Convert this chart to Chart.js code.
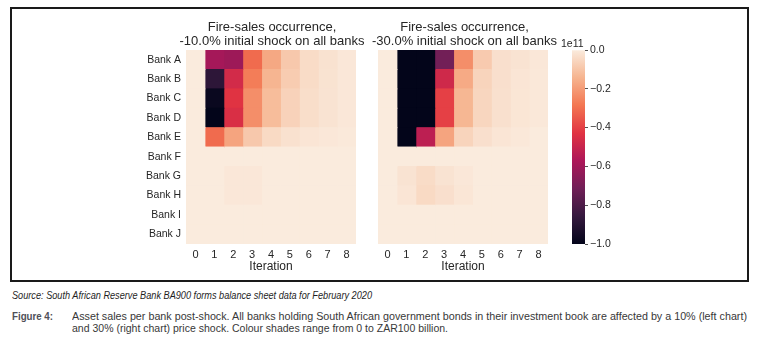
<!DOCTYPE html>
<html>
<head>
<meta charset="utf-8">
<script src="https://cdn.jsdelivr.net/npm/chart.js@4.4.1/dist/chart.umd.min.js"></script>
<style>
body { margin: 0; background: #fff; width: 766px; height: 344px; position: relative; overflow: hidden;
       font-family: "Liberation Sans", Arial, sans-serif; }
#box { position: absolute; left: 10px; top: 7px; width: 735px; height: 271px; border: 2px solid #1a1a1a; }
canvas { position: absolute; top: 0; }
#c10 { left: 110px; }
#c30 { left: 360px; }
#cbar { left: 556px; }
.cap { position: absolute; white-space: nowrap; font-size: 11px; line-height: 12px; color: #383838;
       font-family: "Liberation Sans Narrow", "Liberation Sans", Arial, sans-serif; transform-origin: 0 0; }
#src { left: 12px; top: 290px; font-size: 10px; font-style: italic; color: #1e1e1e; }
#fig { left: 12px; top: 310px; font-weight: bold; color: #4f4f58; }
#l1 { left: 72px; top: 310px; }
#l2 { left: 72px; top: 322px; }
</style>
</head>
<body>
<div id="box"></div>
<canvas id="c10" width="324" height="274"></canvas>
<canvas id="c30" width="209" height="274"></canvas>
<canvas id="cbar" width="64" height="274"></canvas>
<div id="src" class="cap" data-w="360">Source: South African Reserve Bank BA900 forms balance sheet data for February 2020</div>
<div id="fig" class="cap" data-w="41">Figure 4:</div>
<div id="l1" class="cap" data-w="675">Asset sales per bank post-shock. All banks holding South African government bonds in their investment book are affected by a 10% (left chart)</div>
<div id="l2" class="cap" data-w="376">and 30% (right chart) price shock. Colour shades range from 0 to ZAR100 billion.</div>
<script>
var banks = ['Bank A', 'Bank B', 'Bank C', 'Bank D', 'Bank E', 'Bank F', 'Bank G', 'Bank H', 'Bank I', 'Bank J'];
var iterations = [0, 1, 2, 3, 4, 5, 6, 7, 8];
var title10 = ['Fire-sales occurrence,', '-10.0% initial shock on all banks'];
var title30 = ['Fire-sales occurrence,', '-30.0% initial shock on all banks'];
var cbTicks = [-1.0, -0.8, -0.6, -0.4, -0.2, 0.0];
var cbMin = -1, cbMax = 0;
var cbOffset = '1e11';

// asset sales, units of 1e11 ZAR; rows = banks, columns = iterations
var sales10 = [
    [0, -0.59, -0.61, -0.31, -0.17, -0.09, -0.04, -0.023, -0.01],
    [0, -0.88, -0.47, -0.27, -0.14, -0.08, -0.04, -0.022, -0.01],
    [0, -0.98, -0.43, -0.23, -0.12, -0.065, -0.035, -0.02, -0.01],
    [0, -1.00, -0.45, -0.23, -0.12, -0.065, -0.035, -0.02, -0.01],
    [0, -0.31, -0.18, -0.09, -0.045, -0.025, -0.015, -0.01, -0.005],
    [0, 0, 0, 0, 0, 0, 0, 0, 0],
    [0, 0, -0.01, -0.01, 0, 0, 0, 0, 0],
    [0, 0, -0.01, -0.01, 0, 0, 0, 0, 0],
    [0, 0, 0, 0, 0, 0, 0, 0, 0],
    [0, 0, 0, 0, 0, 0, 0, 0, 0]
];
var sales30 = [
    [0, -1.00, -1.00, -0.71, -0.23, -0.085, -0.03, -0.02, -0.01],
    [0, -1.00, -1.00, -0.48, -0.165, -0.06, -0.03, -0.015, -0.008],
    [0, -1.00, -1.00, -0.40, -0.135, -0.055, -0.028, -0.014, -0.007],
    [0, -1.00, -1.00, -0.40, -0.135, -0.055, -0.028, -0.014, -0.007],
    [0, -1.00, -0.53, -0.18, -0.06, -0.03, -0.015, -0.008, 0],
    [0, 0, 0, 0, 0, 0, 0, 0, 0],
    [0, -0.02, -0.04, -0.02, -0.01, 0, 0, 0, 0],
    [0, -0.015, -0.045, -0.03, -0.012, 0, 0, 0, 0],
    [0, 0, 0, 0, 0, 0, 0, 0, 0],
    [0, 0, 0, 0, 0, 0, 0, 0, 0]
];

// seaborn "rocket" colour map, sampled
var rocketStops = ['#03051a', '#35193e', '#701f57', '#ad1759', '#e13342', '#f37651', '#f6b48f', '#faebdd'];
var txt = '#262626';

Chart.defaults.font.family = '"Liberation Sans", Arial, sans-serif';

function hex(c) { return [1, 3, 5].map(function (i) { return parseInt(c.substr(i, 2), 16); }); }

function rocket(v) {
    var t = Math.min(1, Math.max(0, (v - cbMin) / (cbMax - cbMin)));
    var p = t * (rocketStops.length - 1);
    var i = Math.min(rocketStops.length - 2, Math.floor(p));
    var f = p - i;
    var a = hex(rocketStops[i]), b = hex(rocketStops[i + 1]);
    var rgb = a.map(function (x, k) { return Math.round(x + (b[k] - x) * f); });
    return 'rgb(' + rgb.join(',') + ')';
}

// leftW / rightW: space kept on each side of the cells, so the title (full canvas width) stays centred
function heatmap(id, sales, title, showBanks, leftW, rightW) {
    return new Chart(document.getElementById(id), {
        type: 'bar',
        data: {
            labels: banks,
            datasets: iterations.map(function (j) {
                return {
                    data: banks.map(function () { return [j, j + 1]; }),
                    backgroundColor: banks.map(function (b, i) { return rocket(sales[i][j]); })
                };
            })
        },
        options: {
            indexAxis: 'y',
            responsive: false,
            animation: false,
            grouped: false,
            barPercentage: 1,
            categoryPercentage: 1,
            inflateAmount: 0.5,
            borderWidth: 0,
            layout: { padding: 0 },
            plugins: {
                legend: { display: false },
                tooltip: { enabled: false },
                title: {
                    display: true, text: title, color: txt,
                    font: { size: 13, weight: 'normal', lineHeight: 1.1 },
                    padding: { top: 20, bottom: 1.5 }
                }
            },
            scales: {
                x: {
                    type: 'linear', min: 0, max: iterations.length,
                    grid: { display: false, drawTicks: false },
                    border: { display: false },
                    afterBuildTicks: function (ax) {
                        ax.ticks = iterations.map(function (j) { return { value: j + 0.5 }; });
                    },
                    ticks: {
                        callback: function (v) { return iterations[Math.floor(v)]; },
                        color: txt, font: { size: 11 }, padding: 4, maxRotation: 0, autoSkip: false
                    },
                    title: { display: true, text: 'Iteration', color: txt, font: { size: 12 }, padding: 0 },
                    afterFit: function (ax) { ax.height = 30; }
                },
                y: {
                    display: showBanks,
                    grid: { display: false, drawTicks: false },
                    border: { display: false },
                    ticks: { color: txt, font: { size: 10.5 }, padding: 5 },
                    afterFit: function (ax) { ax.width = leftW; }
                },
                spacer: {
                    type: 'linear', position: 'right', display: false,
                    afterFit: function (ax) { ax.width = rightW; }
                }
            }
        }
    });
}

var chart10 = heatmap('c10', sales10, title10, true, 76, 78);
var chart30 = heatmap('c30', sales30, title30, false, 18, 21);

// colorbar
var offsetText = {
    id: 'offsetText',
    afterDraw: function (chart) {
        var ctx = chart.ctx, ca = chart.chartArea;
        ctx.save();
        ctx.font = '10.5px "Liberation Sans", Arial, sans-serif';
        ctx.fillStyle = txt;
        ctx.textBaseline = 'alphabetic';
        ctx.fillText(cbOffset, ca.left - 11, ca.top - 3);
        ctx.restore();
    }
};

var cbar = new Chart(document.getElementById('cbar'), {
    type: 'bar',
    data: {
        labels: [''],
        datasets: [{
            data: [[cbMin, cbMax]],
            backgroundColor: function (c) {
                var chart = c.chart, ys = chart.scales.y;
                if (!ys || !chart.chartArea) return rocketStops[0];
                var g = chart.ctx.createLinearGradient(0, ys.getPixelForValue(cbMin), 0, ys.getPixelForValue(cbMax));
                rocketStops.forEach(function (s, i) { g.addColorStop(i / (rocketStops.length - 1), s); });
                return g;
            }
        }]
    },
    options: {
        responsive: false,
        animation: false,
        barPercentage: 1,
        categoryPercentage: 1,
        borderWidth: 0,
        layout: { padding: { left: 16, top: 50, bottom: 30 } },
        plugins: { legend: { display: false }, tooltip: { enabled: false } },
        scales: {
            x: { display: false },
            y: {
                position: 'right', min: cbMin, max: cbMax,
                afterBuildTicks: function (ax) {
                    ax.ticks = cbTicks.map(function (v) { return { value: v }; });
                },
                ticks: {
                    callback: function (v) { return (v < -1e-9 ? '\u2212' : '') + Math.abs(v).toFixed(1); },
                    color: txt, font: { size: 10.5 }, padding: 2
                },
                grid: { drawOnChartArea: false, tickLength: 3, tickColor: txt, tickWidth: 0.8 },
                border: { display: false },
                afterFit: function (ax) { ax.width = 35; }
            }
        }
    },
    plugins: [offsetText]
});

// squeeze caption lines to the narrow width used in the source document
document.querySelectorAll('.cap').forEach(function (el) {
    var w = el.getBoundingClientRect().width;
    var target = +el.getAttribute('data-w');
    el.style.transform = 'scaleX(' + (target / w) + ')';
});
</script>
</body>
</html>
